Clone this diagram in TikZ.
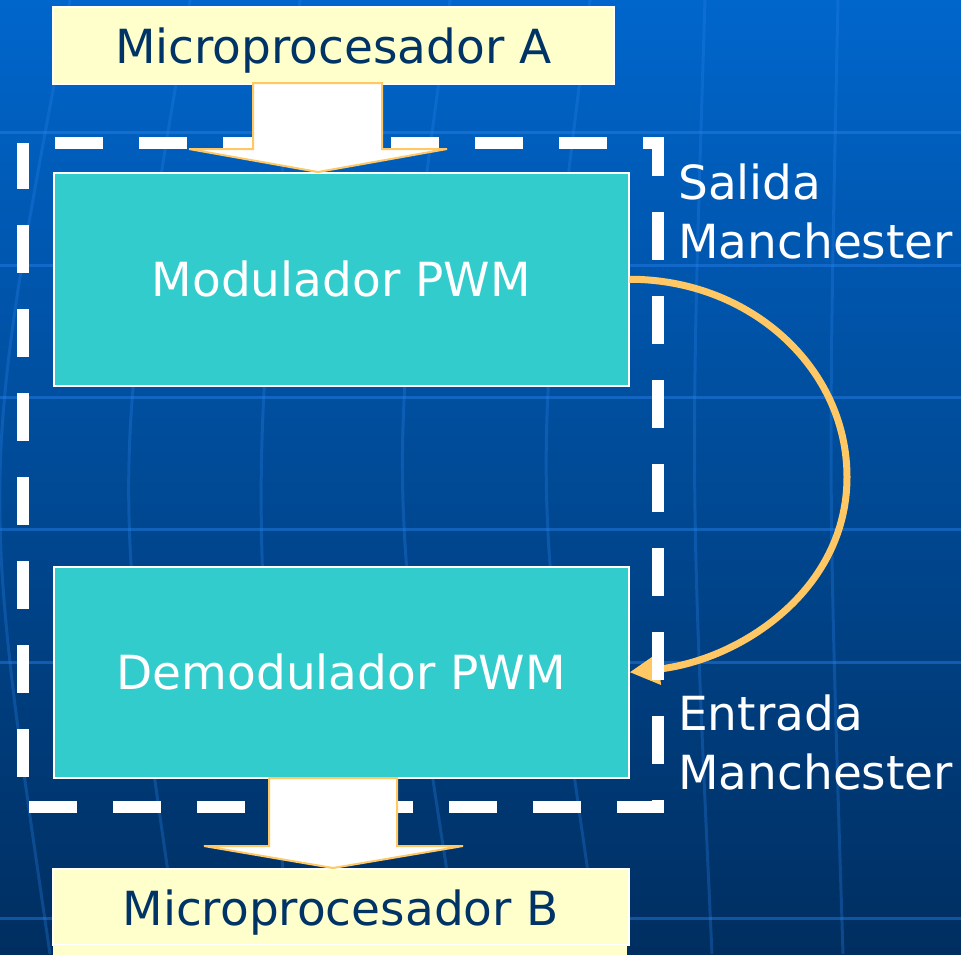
\documentclass[tikz,border=0pt]{standalone}
\usepackage{fontspec}
\setmainfont{DejaVu Sans}
\usetikzlibrary{arrows.meta}

\definecolor{bgtop}{RGB}{0,102,204}
\definecolor{bgbottom}{RGB}{0,46,96}
\definecolor{gridblue}{RGB}{40,130,235}
\definecolor{boxcyan}{RGB}{51,204,204}
\definecolor{boxcream}{RGB}{255,255,204}
\definecolor{textnavy}{RGB}{0,51,102}
\definecolor{signalgold}{RGB}{255,200,100}

\begin{document}
\begin{tikzpicture}[x=1pt,y=-1pt,
  box/.style={anchor=north west, inner sep=0pt, draw=white, line width=1.5pt,
              font=\fontsize{47}{59}\selectfont},
  cpubox/.style={box, fill=boxcream, text=textnavy},
  stagebox/.style={box, fill=boxcyan, text=white},
  sidelabel/.style={anchor=base west, inner sep=0pt, text=white,
                    font=\fontsize{47}{59}\selectfont},
  blockarrow/.style={fill=white, draw=signalgold, line width=2pt, line join=miter},
  signal/.style={draw=signalgold, line width=7pt,
                 -{Triangle[length=30pt,width=30pt]}},
  boundary/.style={draw=white, line width=12pt,
                   dash pattern=on 48pt off 36pt, dash phase=52pt},
  gridline/.style={draw=gridblue, line width=3pt, opacity=0.45}
]
\useasboundingbox (0,0) rectangle (961,954);

% background gradient
\shade[top color=bgtop, bottom color=bgbottom] (0,0) rectangle (961,954);

% faint background grid
\foreach \yy in {132,265,397,529,662,918}
  \draw[gridline] (0,\yy) -- (961,\yy);
\draw[gridline, opacity=0.3] (190,0) .. controls (110,477) .. (180,954);
\draw[gridline, opacity=0.3] (300,0) .. controls (250,477) .. (290,954);
\draw[gridline, opacity=0.3] (450,0) .. controls (385,477) .. (460,954);
\draw[gridline, opacity=0.3] (590,0) .. controls (530,477) .. (600,954);
\draw[gridline, opacity=0.3] (705,0) .. controls (690,477) .. (712,954);
\draw[gridline, opacity=0.3] (838,0) .. controls (828,477) .. (843,954);
\draw[gridline, opacity=0.3] (70,0) .. controls (-20,477) .. (50,954);

% blocks
\node[cpubox, minimum width=561pt, text height=57pt, text depth=20pt]
  (cpuA) at (52,6) {Microprocesador A};
\node[stagebox, minimum width=575pt, text height=124pt, text depth=89pt]
  (mod) at (53,172) {Modulador PWM};
\node[stagebox, minimum width=575pt, text height=123pt, text depth=88pt]
  (dem) at (53,566) {Demodulador PWM};
\node[cpubox, minimum width=576pt, text height=57pt, text depth=19pt]
  (cpuB) at (52,868) {Microprocesador B};
\fill[boxcream] (52.75,944.75) rectangle (627.25,956);

% side labels
\node[sidelabel] (salida) at (678,199)
  {\vtop{\hbox{Salida}\hbox{Manchester}}};
\node[sidelabel] (entrada) at (678,730)
  {\vtop{\hbox{Entrada}\hbox{Manchester}}};

% Manchester link from modulator output to demodulator input
\coordinate (bend) at (847,477);
\draw[signal] (mod.east) .. controls +(121,0) and +(0,-109) .. (bend)
  .. controls +(0,113) and +(111,-12) .. (dem.east);

% dashed boundary of the module
\draw[boundary] (23,142.5) -- (657.5,142.5) -- (657.5,807) -- (23,807) -- cycle;

% block arrows between processors and module
\filldraw[blockarrow] (253,83) -- (253,149) -- (189,149) -- (318,172)
  -- (447,149) -- (382,149) -- (382,83) -- cycle;
\filldraw[blockarrow] (269,778) -- (269,846) -- (204,846) -- (333,868)
  -- (463,846) -- (397,846) -- (397,778) -- cycle;
\end{tikzpicture}
\end{document}
